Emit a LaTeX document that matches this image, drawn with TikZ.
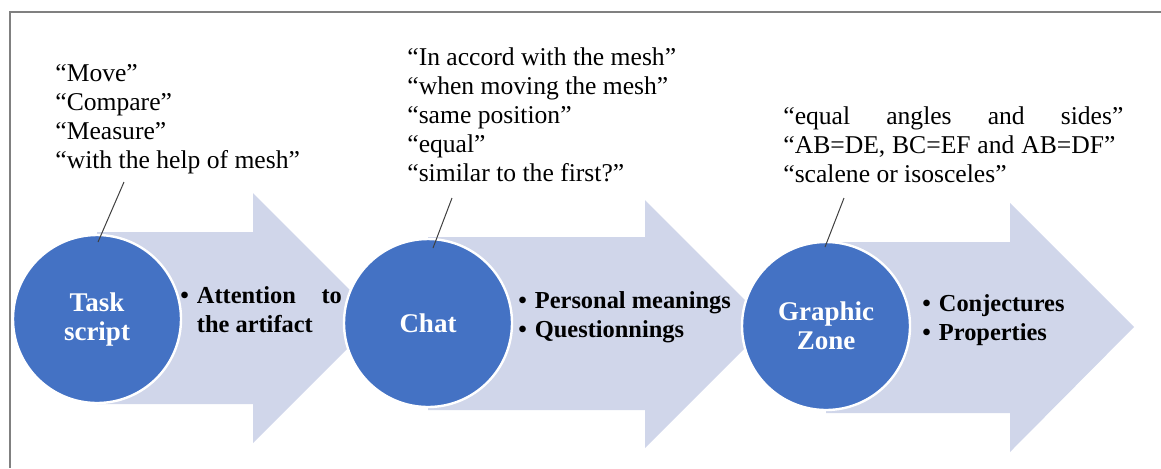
\documentclass[tikz,border=0pt]{standalone}
\usepackage{fontspec}
\setmainfont{Liberation Serif}
\usepackage{xcolor}
\usetikzlibrary{positioning}
\definecolor{stageblue}{HTML}{4472C4}
\definecolor{flowlav}{HTML}{D0D6EA}

\begin{document}
\begin{tikzpicture}[x=.5pt,y=-.5pt,
    stage/.style={circle,fill=stageblue,draw=white,line width=1.2pt,minimum size=84pt,inner sep=0pt,text=white,align=center,font=\fontsize{13.5}{14.5}\selectfont\bfseries},
    said/.style={anchor=base west,inner sep=0pt,align=left,font=\fontsize{12.8}{14.5}\selectfont},
    items/.style={anchor=base west,inner sep=0pt,font=\fontsize{12.2}{14.5}\selectfont\bfseries},
    lead/.style={draw=black!75,line width=.5pt}]
    \useasboundingbox (0,0) rectangle (1161,468);
    \draw[gray,line width=.8pt] (1161,12) -- (10,12) -- (10,468);

    % stage 1
    \fill[flowlav] (97,232) -- (253,232) -- (253,193) -- (378,318) -- (253,443) -- (253,404) -- (97,404) -- cycle;
    \node[stage] (task) at (97,319) {Task\\script};
    % stage 2
    \fill[flowlav] (428,237) -- (645,237) -- (645,200) -- (769,324) -- (645,448) -- (645,410) -- (428,410) -- cycle;
    \node[stage] (chat) at (428,323) {Chat};
    % stage 3
    \fill[flowlav] (826,242) -- (1010,242) -- (1010,203) -- (1134,327) -- (1010,452) -- (1010,413) -- (826,413) -- cycle;
    \node[stage] (zone) at (826,326) {Graphic\\Zone};

    \node[items] (i1) at (180,303) {\begin{tabular}[t]{@{}l@{\hspace{4pt}}l@{}}\textbullet & \makebox[72.5pt][s]{Attention to}\\ & the artifact\end{tabular}};
    \node[items] (i2) at (518,308) {\begin{tabular}[t]{@{}l@{\hspace{4pt}}l@{}}\textbullet & Personal meanings\\ \textbullet & Questionnings\end{tabular}};
    \node[items] (i3) at (922,311) {\begin{tabular}[t]{@{}l@{\hspace{4pt}}l@{}}\textbullet & Conjectures\\ \textbullet & Properties\end{tabular}};

    % quotes, anchored on their last line
    \node[said] (q1) at (55,168) {“Move”\\“Compare”\\“Measure”\\“with the help of mesh”};
    \node[said] (q2) at (407,181) {“In accord with the mesh”\\“when moving the mesh”\\“same position”\\“equal”\\“similar to the first?”};
    \node[said] (q3) at (783,182) {\makebox[170pt][s]{“equal angles and sides”}\\\makebox[166pt][s]{“AB=DE, BC=EF and AB=DF”}\\“scalene or isosceles”};

    \coordinate (a1) at (124,182);
    \coordinate (b1) at (98,242);
    \coordinate (a2) at (452,198);
    \coordinate (b2) at (433,248);
    \coordinate (a3) at (844,198);
    \coordinate (b3) at (825,247);
    \draw[lead] (a1) -- (b1);
    \draw[lead] (a2) -- (b2);
    \draw[lead] (a3) -- (b3);
\end{tikzpicture}
\end{document}
